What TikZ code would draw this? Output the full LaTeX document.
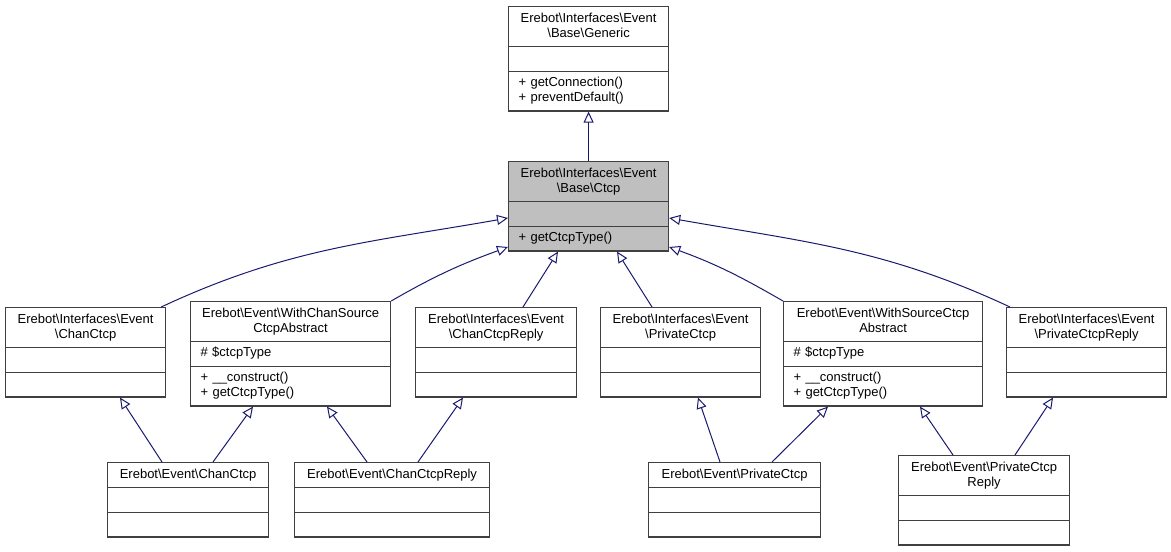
\documentclass[tikz,border=0pt]{standalone}
\usepackage{fontspec}
\setmainfont{Liberation Sans}
\usetikzlibrary{shapes.multipart, arrows.meta}
\definecolor{boxline}{HTML}{404040}
\definecolor{basefill}{HTML}{BFBFBF}
\definecolor{inheritline}{HTML}{191970}
\newcommand{\classfont}{\fontsize{13}{15}\selectfont}
\newcommand{\nsep}{\textbackslash}
\newcommand{\clstitle}[1]{\makebox[\hsize]{\strut #1}}
\tikzset{
    classbox/.style={rectangle split, rectangle split parts=3,
        anchor=north west,
        draw=boxline, fill=white, line width=1.2pt,
        inner xsep=10pt, inner ysep=4.3pt,
        align=left, font=\classfont},
    basebox/.style={classbox, fill=basefill},
    inherit/.style={-{Triangle[open, length=11pt, width=10pt]},
        draw=inheritline, line width=1pt}
}

\begin{document}
\begin{tikzpicture}[x=1pt, y=-1pt]
\useasboundingbox (0,0) rectangle (1171,552);

% Level 0
\node[classbox, text width=140pt] (generic) at (508,6)
    {\clstitle{Erebot\nsep Interfaces\nsep Event}\\\clstitle{\nsep Base\nsep Generic}
     \nodepart{second}\strut
     \nodepart{third}\strut + getConnection()\\\strut + preventDefault()};

% Level 1
\node[basebox, text width=140pt] (ctcp) at (508,161)
    {\clstitle{Erebot\nsep Interfaces\nsep Event}\\\clstitle{\nsep Base\nsep Ctcp}
     \nodepart{second}\strut
     \nodepart{third}\strut + getCtcpType()};

% Level 2
\node[classbox, text width=140pt] (ifchan) at (5,307)
    {\clstitle{Erebot\nsep Interfaces\nsep Event}\\\clstitle{\nsep ChanCtcp}
     \nodepart{second}\strut
     \nodepart{third}\strut};
\node[classbox, text width=180pt] (chansrc) at (190,301)
    {\clstitle{Erebot\nsep Event\nsep WithChanSource}\\\clstitle{CtcpAbstract}
     \nodepart{second}\strut \# \$ctcpType
     \nodepart{third}\strut + \_\_construct()\\\strut + getCtcpType()};
\node[classbox, text width=141pt] (ifchanreply) at (415,307)
    {\clstitle{Erebot\nsep Interfaces\nsep Event}\\\clstitle{\nsep ChanCtcpReply}
     \nodepart{second}\strut
     \nodepart{third}\strut};
\node[classbox, text width=140pt] (ifpriv) at (600,307)
    {\clstitle{Erebot\nsep Interfaces\nsep Event}\\\clstitle{\nsep PrivateCtcp}
     \nodepart{second}\strut
     \nodepart{third}\strut};
\node[classbox, text width=179pt] (privsrc) at (783,301)
    {\clstitle{Erebot\nsep Event\nsep WithSourceCtcp}\\\clstitle{Abstract}
     \nodepart{second}\strut \# \$ctcpType
     \nodepart{third}\strut + \_\_construct()\\\strut + getCtcpType()};
\node[classbox, text width=140pt] (ifprivreply) at (1006,307)
    {\clstitle{Erebot\nsep Interfaces\nsep Event}\\\clstitle{\nsep PrivateCtcpReply}
     \nodepart{second}\strut
     \nodepart{third}\strut};

% Level 3
\node[classbox, text width=141pt] (evchan) at (107,462)
    {\clstitle{Erebot\nsep Event\nsep ChanCtcp}
     \nodepart{second}\strut
     \nodepart{third}\strut};
\node[classbox, text width=175pt] (evchanreply) at (294,462)
    {\clstitle{Erebot\nsep Event\nsep ChanCtcpReply}
     \nodepart{second}\strut
     \nodepart{third}\strut};
\node[classbox, text width=152pt] (evpriv) at (648,462)
    {\clstitle{Erebot\nsep Event\nsep PrivateCtcp}
     \nodepart{second}\strut
     \nodepart{third}\strut};
\node[classbox, text width=151pt] (evprivreply) at (898,455)
    {\clstitle{Erebot\nsep Event\nsep PrivateCtcp}\\\clstitle{Reply}
     \nodepart{second}\strut
     \nodepart{third}\strut};

% Inheritance
\draw[inherit] (ctcp.north) -- (generic.south);

\draw[inherit] ([xshift=-5pt]ifchan.north east) to[out=25, in=190] ([yshift=-57pt]ctcp.north west);
\draw[inherit] (chansrc.north east) to[out=30, in=200] ([yshift=-86pt]ctcp.north west);
\draw[inherit] ([xshift=108pt]ifchanreply.north west) -- ([xshift=50pt]ctcp.south west);
\draw[inherit] ([xshift=52pt]ifpriv.north west) -- ([xshift=109pt]ctcp.south west);
\draw[inherit] (privsrc.north west) to[out=150, in=-20] ([yshift=-86pt]ctcp.north east);
\draw[inherit] ([xshift=4pt]ifprivreply.north west) to[out=155, in=-10] ([yshift=-57pt]ctcp.north east);

\draw[inherit] ([xshift=55pt]evchan.north west) -- ([xshift=115pt]ifchan.south west);
\draw[inherit] ([xshift=106pt]evchan.north west) -- ([xshift=63pt]chansrc.south west);
\draw[inherit] ([xshift=73pt]evchanreply.north west) -- ([xshift=137pt]chansrc.south west);
\draw[inherit] ([xshift=124pt]evchanreply.north west) -- ([xshift=48pt]ifchanreply.south west);
\draw[inherit] ([xshift=72pt]evpriv.north west) -- ([xshift=98pt]ifpriv.south west);
\draw[inherit] ([xshift=124pt]evpriv.north west) -- ([xshift=45pt]privsrc.south west);
\draw[inherit] ([xshift=55pt]evprivreply.north west) -- ([xshift=137pt]privsrc.south west);
\draw[inherit] ([xshift=117pt]evprivreply.north west) -- ([xshift=47pt]ifprivreply.south west);

\end{tikzpicture}
\end{document}
